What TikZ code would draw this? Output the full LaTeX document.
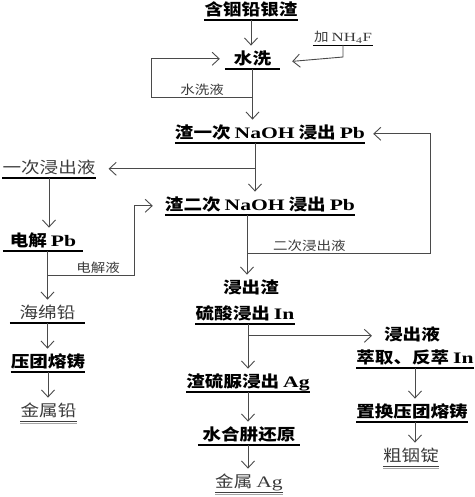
\documentclass[tikz,border=0pt]{standalone}
\usepackage{fontspec}
\usepackage{graphicx}
\setmainfont{Liberation Serif}
\newfontfamily\cjk[FakeStretch=1.16]{Noto Sans CJK SC}
\newcommand{\zh}[1]{{\cjk #1}}
\newcommand{\la}[1]{\scalebox{1.35}[1]{#1}}
\usepackage{xcolor}
\usetikzlibrary{arrows.meta, positioning, calc}
\definecolor{linegray}{HTML}{4A4A4A}
\definecolor{textgray}{HTML}{3A3A3A}

\begin{document}
\begin{tikzpicture}[x=1pt, y=-1pt]
        \tikzstyle{stage} = [anchor=south, inner xsep=0pt, inner ysep=1pt, text height=13pt, text depth=3pt, font=\fontsize{16}{19}\selectfont\bfseries, append after command={(\tikzlastnode.south west) edge[line width=1.1pt] (\tikzlastnode.south east)}]
        \tikzstyle{plain} = [anchor=south, inner xsep=0pt, inner ysep=1pt, text height=13pt, text depth=3pt, font=\fontsize{16}{19}\selectfont\bfseries]
        \tikzstyle{liquor} = [stage, font=\fontsize{16}{19}\selectfont, text=textgray]
        \tikzstyle{product} = [plain, font=\fontsize{16}{19}\selectfont, text=textgray, append after command={(\tikzlastnode.south west) edge[line width=0.8pt, black!75] (\tikzlastnode.south east) ($(\tikzlastnode.south west)+(0,2.2)$) edge[line width=1.4pt, black!35] ($(\tikzlastnode.south east)+(0,2.2)$)}]
        \tikzstyle{note} = [anchor=south, inner sep=1pt, font=\fontsize{12.5}{15}\selectfont, text=textgray]
        \tikzstyle{line} = [draw, linegray, line width=0.9pt, shorten >=5pt, -{Straight Barb[length=7pt,width=13pt,line width=0.9pt]}]

        \useasboundingbox (0,0) rectangle (474,497);

        % main route
        \node [stage] (src) at (251,20) {\zh{含铟铅银渣}};
        \node [stage, minimum width=55pt] (wash) at (252.5,69) {\zh{水洗}};
        \node [note, append after command={(\tikzlastnode.south west) edge[line width=0.8pt] (\tikzlastnode.south east)}] (nh4f) at (343,45) {\zh{加} \la{NH\textsubscript{4}F}};
        \node [stage] (leach1) at (270,143) {\zh{渣一次} \la{NaOH} \zh{浸出} \la{Pb}};
        \node [stage] (leach2) at (260,215) {\zh{渣二次} \la{NaOH} \zh{浸出} \la{Pb}};
        \node [plain] (res) at (251,298) {\zh{浸出渣}};
        \node [stage, minimum width=95pt] (acid) at (245,324) {\zh{硫酸浸出} \la{In}};
        \node [stage, minimum width=120pt] (thio) at (248,392) {\zh{渣硫脲浸出} \la{Ag}};
        \node [stage, minimum width=102pt] (hyd) at (249,445) {\zh{水合肼还原}};
        \node [product, minimum width=62pt] (ag) at (249,492) {\zh{金属} \la{Ag}};

        % lead branch
        \node [liquor, minimum width=92pt] (liq1) at (49,178) {\zh{一次浸出液}};
        \node [stage, minimum width=80pt] (elec) at (43,251) {\zh{电解} \la{Pb}};
        \node [liquor, minimum width=75pt] (sponge) at (47.5,323) {\zh{海绵铅}};
        \node [stage, minimum width=73pt] (press1) at (48,372) {\zh{压团熔铸}};
        \node [product, minimum width=53pt] (pb) at (48.5,421) {\zh{金属铅}};

        % indium branch
        \node [plain] (liq3) at (412,345) {\zh{浸出液}};
        \node [stage, minimum width=115pt] (extr) at (415,368) {\zh{萃取、反萃} \la{In}};
        \node [stage, minimum width=110pt] (repl) at (412,422) {\zh{置换压团熔铸}};
        \node [product, minimum width=53pt] (inn) at (411,466) {\zh{粗铟锭}};

        \coordinate (t1) at ($(leach1.south)+(-15,0)$);
        \coordinate (t2) at ($(leach2.south)+(-13,0)$);
        \coordinate (t3) at ($(acid.south)+(3,0)$);

        \path [line] (src.south) -- (src.south |- wash.north);
        \path [line] (nh4f.south) -- ++(0,12) -- ($(wash.east)+(7,2)$);
        \path [line] (wash.south) -- (wash.south |- leach1.north);
        \path [line] ($(wash.south)+(0,28)$) -| node [note, pos=0.25] (wliq) {\zh{水洗液}} ($(wash.west)+(-73,-1)$) -- ($(wash.west)+(0,-1)$);

        \path [line] (t1) -- (t1 |- leach2.north);
        \path [line, shorten >=13pt] (t1 |- liq1.east) -- (liq1.east);
        \path [line] (liq1.south) -- (liq1.south |- elec.north);

        \path [line] (t2) -- (t2 |- res.north);
        \path [line, shorten >=8pt] ($(t2)+(0,38)$) -| node [note, pos=0.17] (liq2) {\zh{二次浸出液}} ($(leach1.east)+(65,0)$) -- (leach1.east);

        \path [line] (sponge.north |- elec.south) -- (sponge.north);
        \path [line, shorten >=12pt] ($(sponge.north |- elec.south)+(0,24)$) -| node [note, pos=0.29] (eliq) {\zh{电解液}} ($(leach2.west)+(-30,0)$) -- (leach2.west);
        \path [line] (sponge.south) -- (sponge.south |- press1.north);
        \path [line] (press1.south) -- (press1.south |- pb.north);

        \path [line] (t3) -- (t3 |- thio.north);
        \path [line, shorten >=12pt] (t3 |- liq3.west) -- (liq3.west);
        \path [line] (thio.south -| t3) -- (t3 |- hyd.north);
        \path [line] (hyd.south -| t3) -- (t3 |- ag.north);

        \path [line] (extr.south) -- (extr.south |- repl.north);
        \path [line] (extr.south |- repl.south) -- (extr.south |- inn.north);
    \end{tikzpicture}
\end{document}
